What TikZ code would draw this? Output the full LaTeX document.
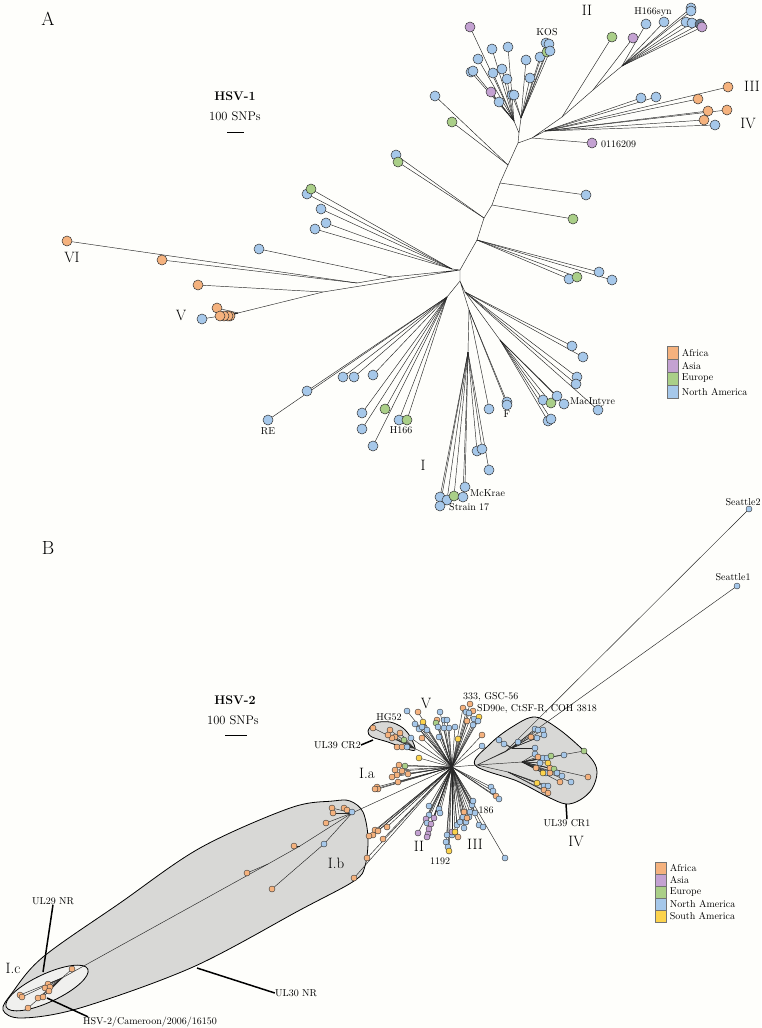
\documentclass[tikz,border=0pt]{standalone}
\usepackage{tikz}
\usetikzlibrary{positioning}

\definecolor{africa}{HTML}{F5B27E}
\definecolor{asia}{HTML}{C4A2D2}
\definecolor{europe}{HTML}{AACF88}
\definecolor{namerica}{HTML}{A6C8EA}
\definecolor{samerica}{HTML}{FCD34D}
\definecolor{cladegrey}{HTML}{D8D8D6}
\definecolor{cladelight}{HTML}{F0F0EE}
\definecolor{paper}{HTML}{FEFEFB}

\tikzset{
  tipA/.style={circle, draw=black!80, line width=0.5pt, minimum size=10pt, inner sep=0pt},
  tipB/.style={circle, draw=black!80, line width=0.4pt, minimum size=6pt, inner sep=0pt},
  branch/.style={draw=black!85, line width=0.45pt},
  callout/.style={draw=black, line width=1.5pt},
  cladeshape/.style={draw=black, line width=0.8pt, fill=cladegrey},
  tag/.style={font=\fontsize{10}{11}\selectfont, inner sep=0pt, text=black},
  roman/.style={font=\fontsize{15}{17}\selectfont, inner sep=0pt},
  panel/.style={font=\fontsize{19}{21}\selectfont, inner sep=0pt},
  keybox/.style={draw=black!55, line width=0.6pt, minimum width=11pt, minimum height=12.5pt, inner sep=0pt, anchor=north west},
}

% tips: x/y/colour/parent
\def\tipsA{
  470/27/asia/kos1, 492/49/namerica/kos1, 508/47/namerica/kos1, 478/59/namerica/kos1,
  471/72/namerica/kos1, 473/71/namerica/kos1, 493/73/namerica/kos1, 502/69/namerica/kos1,
  507/79/namerica/kos1, 491/92/asia/kos1, 499/102/namerica/kos1,
  512/95/namerica/kos2, 514/95/namerica/kos2, 526/60/namerica/kos2, 530/78/namerica/kos2,
  540/57/namerica/kos2, 547/52/europe/kos2, 546/43/namerica/kos2, 549/44/namerica/kos2, 550/51/namerica/kos2,
  435/96/namerica/spine5, 452/122/europe/spine5, 396/155/namerica/spine2, 398/162/europe/spine2,
  586/195/namerica/spine4, 573/219/europe/spine3,
  599/272/namerica/spine1, 569/279/namerica/spine1, 577/277/europe/spine1, 612/280/namerica/spine1,
  592/143/asia/right0,
  641/98/namerica/right1, 656/97/namerica/right1, 728/87/africa/right1, 698/99/africa/right1,
  708/111/africa/right1, 727/110/africa/right1, 704/120/africa/right1, 715/125/namerica/right1,
  612/37/europe/right2, 633/38/asia/right3,
  646/24/namerica/right4, 664/22/namerica/right4, 691/8/namerica/right4, 691/11/namerica/right4,
  686/22/namerica/right4, 692/23/namerica/right4, 700/24/namerica!60!black/right4, 702/27/asia/right4,
  307/194/namerica/hubAleft, 311/189/europe/hubAleft, 321/209/namerica/hubAleft,
  326/223/namerica/hubAleft, 315/229/namerica/hubAleft,
  259/249/namerica/six1, 67/241/africa/six2, 162/260/africa/six2,
  198/285/africa/five1, 217/308/africa/five2, 202/319/namerica/five2, 230/316/africa/five2,
  228/316/africa/five2, 224/316/africa/five2, 220/316/africa/five2,
  268/420/namerica/low1, 307/391/namerica/low1, 343/377/namerica/low1, 354/377/namerica/low1,
  373/375/namerica/low1, 362/413/namerica/low1, 385/409/europe/low1, 362/429/namerica/low1,
  373/446/namerica/low1, 399/420/namerica/low1, 407/420/europe/low1,
  572/346/namerica/low2, 583/357/namerica/low2, 577/377/namerica/low2, 576/384/namerica/low2, 598/410/namerica/low2,
  543/400/namerica/low3, 551/403/europe/low3, 557/396/namerica/low3, 564/404/namerica/low3,
  548/421/namerica/low3, 551/419/namerica/low3,
  507/402/namerica/low4, 507/405/namerica/low4, 489/409/namerica/low4,
  477/451/namerica/low5, 482/449/namerica/low5, 489/470/namerica/low5, 440/497/namerica/low5,
  447/500/namerica/low5, 454/496/europe/low5, 463/497/namerica/low5, 465/487/namerica/low5, 440/506/namerica/low5}

\def\tipsB{
  749/509/namerica/seattle, 737/586/namerica/seattle,
  499/740/namerica/iv1, 504/744/namerica/iv1, 518/742/namerica/iv1, 535/729/namerica/iv1,
  538/730/namerica/iv1, 543/730/namerica/iv1, 544/735/namerica/iv1, 537/738/namerica/iv1,
  531/737/africa/iv1, 535/748/namerica/iv1,
  535/754/namerica/iv2, 543/758/namerica/iv2, 547/758/namerica/iv2, 551/756/europe/iv2,
  564/755/namerica/iv2, 584/751/europe/iv2, 538/757/africa/iv2, 540/763/namerica/iv2,
  536/768/africa/iv2, 550/768/africa/iv2, 548/763/samerica/iv2, 554/769/europe/iv2,
  557/773/namerica/iv2, 546/773/namerica/iv2, 543/773/samerica/iv2, 550/773/africa/iv2,
  562/776/namerica/iv2, 560/782/africa/iv2, 571/782/namerica/iv2, 588/777/africa/iv2,
  537/783/samerica/iv3, 544/786/namerica/iv3, 548/786/namerica/iv3, 544/790/africa/iv3, 548/793/africa/iv3,
  491/787/namerica/hubB, 493/791/namerica/hubB, 496/796/africa/hubB, 499/799/namerica/hubB,
  407/711/namerica/hubB, 418/712/africa/hubB, 423/722/samerica/hubB, 415/724/namerica/hubB,
  419/729/namerica/hubB, 422/727/namerica/hubB, 422/738/africa/hubB, 411/738/namerica/hubB,
  427/730/namerica/hubB, 419/758/samerica/hubB, 440/712/namerica/hubB, 437/720/africa/hubB,
  436/723/europe/hubB, 444/720/namerica/hubB, 447/720/namerica/hubB, 438/727/namerica/hubB,
  444/728/namerica/hubB, 449/728/namerica/hubB, 455/727/namerica/hubB, 439/737/namerica/hubB,
  458/739/samerica/hubB, 470/704/africa/hubB, 463/708/africa/hubB, 466/712/namerica/hubB,
  473/711/africa/hubB, 469/713/namerica/hubB, 474/719/namerica/hubB, 467/721/africa/hubB,
  479/717/samerica/hubB, 478/721/namerica/hubB, 473/725/namerica/hubB, 482/735/africa/hubB, 482/746/namerica/hubB,
  373/728/africa/hg, 390/730/africa/hg, 395/737/africa/hg, 400/733/africa/hg, 392/738/africa/hg,
  388/735/africa/hg, 404/740/europe/hg, 397/747/africa/hg, 402/747/africa/hg, 407/747/namerica/hg,
  399/765/africa/hubB, 405/766/europe/hubB, 395/770/africa/hubB, 402/771/africa/hubB,
  408/774/africa/hubB, 397/775/africa/hubB, 392/777/africa/hubB, 398/782/africa/hubB,
  377/787/africa/hubB, 378/789/africa/hubB, 375/789/africa/hubB,
  332/808/africa/ib1, 333/813/africa/ib1, 344/808/africa/ib1, 347/810/africa/ib1,
  352/812/namerica/ib1, 326/823/africa/ib1, 294/846/africa/ib3, 247/873/africa/ib2,
  324/844/namerica/ib1, 272/889/africa/ibmid,
  72/969/africa/ic0, 48/984/africa/ic0, 45/988/africa/ic0, 50/987/africa/ic0, 49/991/africa/ic0,
  20/995/africa/ic0, 22/997/africa/ic0, 38/998/africa/ic0, 43/997/africa/ic0, 28/1008/africa/ic0,
  375/830/africa/hubB, 378/831/africa/hubB, 373/835/africa/hubB, 369/836/africa/hubB,
  387/827/africa/hubB, 383/839/africa/hubB, 367/858/africa/hubB, 354/878/africa/hubB,
  429/806/namerica/hubB, 439/809/namerica/hubB, 440/813/namerica/hubB, 429/815/namerica/hubB,
  426/819/asia/hubB, 434/818/asia/hubB, 427/823/namerica/hubB, 431/824/asia/hubB,
  429/829/asia/hubB, 418/833/asia/hubB, 428/834/asia/hubB, 427/837/asia/hubB,
  447/835/namerica/hubB, 452/835/namerica/hubB, 446/842/namerica/hubB, 448/847/namerica/hubB,
  449/851/samerica/hubB, 452/832/asia/hubB, 455/832/samerica/hubB, 458/837/africa/hubB,
  457/825/namerica/hubB, 460/822/namerica/hubB, 464/828/namerica/hubB, 466/822/namerica/hubB,
  463/817/namerica/hubB, 464/812/africa/hubB, 470/812/namerica/hubB, 469/817/namerica/hubB,
  472/805/namerica/hubB, 473/801/namerica/hubB, 475/813/namerica/hubB, 467/818/africa/hubB,
  479/825/namerica/hubB, 483/827/namerica/hubB, 505/858/namerica/hubB}

\begin{document}
\begin{tikzpicture}[x=1pt, y=-1pt]
\fill[paper] (0,0) rectangle (761,1028);
\useasboundingbox (0,0) rectangle (761,1028);

% ---------------- panel A : HSV-1 ----------------
\node[panel] (panelA) at (48,19) {A};
\node[font=\fontsize{12.5}{14}\selectfont\bfseries, inner sep=0pt] (titleA) at (235,96) {HSV-1};
\node[font=\fontsize{12.5}{14}\selectfont, inner sep=0pt] (snpA) at (235,116) {100 SNPs};
\coordinate (barAl) at (227,132);
\coordinate (barAr) at (244,132);
\draw[line width=0.8pt] (barAl) -- (barAr);

% internal nodes
\coordinate (hubA) at (460,270);
\coordinate (hubAlow) at (460,281);
\coordinate (hubAleft) at (452,269);
\coordinate (spine1) at (477,240);
\coordinate (spine2) at (484,218);
\coordinate (spine3) at (492,205);
\coordinate (spine4) at (500,183);
\coordinate (spine5) at (508,165);
\coordinate (spine6) at (518,143);
\coordinate (kos0) at (519,133);
\coordinate (kos1) at (514,121);
\coordinate (kos2) at (521,118);
\coordinate (right0) at (532,138);
\coordinate (right1) at (545,131);
\coordinate (right2) at (562,117);
\coordinate (right3) at (593,90);
\coordinate (right4) at (622,66);
\coordinate (six1) at (392,277);
\coordinate (six2) at (357,283);
\coordinate (five1) at (323,292);
\coordinate (five2) at (238,313);
\coordinate (low1) at (447,297);
\coordinate (low2) at (465,292);
\coordinate (low3) at (500,340);
\coordinate (low4) at (469,310);
\coordinate (low5) at (468,352);

\draw[branch] (hubAlow) -- (hubA) (hubAleft) -- (hubA)
  (hubA) -- (spine1) -- (spine2) -- (spine3) -- (spine4) -- (spine5) -- (spine6) -- (kos0)
  (kos0) -- (kos1) (kos0) -- (kos2)
  (spine6) -- (right0) -- (right1) (right0) -- (right2) -- (right3) -- (right4)
  (six2) -- (six1) -- (hubA) (five2) -- (five1) -- (hubA)
  (low1) -- (hubAlow) (low2) -- (hubAlow) (low3) -- (low2) (low4) -- (hubAlow) (low5) -- (low4);

% tips of panel A
\foreach \x/\y/\c/\p [count=\i] in \tipsA {
  \coordinate (ta\i) at (\x,\y);
  \draw[branch] (\p) -- (ta\i);
}
\foreach \x/\y/\c/\p [count=\i] in \tipsA {
  \node[tipA, fill=\c] (tipa\i) at (ta\i) {};
}

% labels of panel A
\node[tag] (kos) at (547,32) {KOS};
\node[roman] (cladeII) at (587,10) {II};
\node[tag] (hsyn) at (653,12) {H166syn};
\node[roman] (cladeIII) at (752,86) {III};
\node[roman] (cladeIV) at (748,123) {IV};
\node[tag, anchor=west] (s0116209) at (601,144) {0116209};
\node[roman] (cladeVI) at (72,257) {VI};
\node[roman] (cladeV) at (181,315) {V};
\node[tag] (re) at (268,431) {RE};
\node[tag] (h166) at (401,430) {H166};
\node[tag] (strF) at (507,414) {F};
\node[tag, anchor=west] (macintyre) at (570,402) {MacIntyre};
\node[roman] (cladeI) at (423,465) {I};
\node[tag, anchor=west] (mckrae) at (470,493) {McKrae};
\node[tag, anchor=west] (strain17) at (449,507) {Strain 17};

% key of panel A
\foreach \c/\lab [count=\i] in {africa/Africa, asia/Asia, europe/Europe, namerica/North America}{
  \node[keybox, fill=\c] (keyA\i) at (667,333+13*\i) {};
  \node[tag, anchor=west] (keyAt\i) at ([xshift=3pt]keyA\i.east) {\lab};
}

% ---------------- panel B : HSV-2 ----------------
\node[panel] (panelB) at (48,548) {B};
\node[font=\fontsize{12.5}{14}\selectfont\bfseries, inner sep=0pt] (titleB) at (235,700) {HSV-2};
\node[font=\fontsize{12.5}{14}\selectfont, inner sep=0pt] (snpB) at (233,720) {100 SNPs};
\coordinate (barBl) at (225,735);
\coordinate (barBr) at (247,735);
\draw[line width=0.8pt] (barBl) -- (barBr);

% shaded clades
\draw[cladeshape] plot[smooth cycle, tension=0.55] coordinates {
  (333,801) (350,801) (363,812) (368,838) (365,866) (354,881) (300,910) (193,967)
  (80,1008) (22,1018) (3,1010) (12,993) (43,957) (120,903) (200,848) (290,808)};
\draw[cladeshape, fill=cladelight, rotate around={25:(47,988)}] (47,988) ellipse [x radius=45pt, y radius=14pt];
\draw[cladeshape] plot[smooth cycle, tension=0.55] coordinates {
  (475,765) (490,744) (512,727) (535,717) (560,730) (590,757) (597,772) (592,789)
  (580,800) (566,804) (548,797) (517,781)};
\draw[cladeshape] plot[smooth cycle, tension=0.55] coordinates {
  (368,731) (375,723) (390,722) (403,728) (411,738) (415,750) (404,748) (388,742) (372,737)};

% internal nodes
\coordinate (hubB) at (452,767);
\coordinate (baseIV) at (477,765);
\coordinate (seattle) at (505,752);
\coordinate (iv1) at (512,748);
\coordinate (iv2) at (522,762);
\coordinate (iv3) at (508,772);
\coordinate (hg) at (414,748);
\coordinate (ib1) at (352,813);
\coordinate (ib2) at (268,864);
\coordinate (ib3) at (300,846);
\coordinate (ibmid) at (324,844);
\coordinate (ic0) at (62,978);

\draw[branch] (baseIV) -- (hubB) (seattle) -- (baseIV) (iv1) -- (baseIV) (iv2) -- (baseIV) (iv3) -- (baseIV)
  (hg) -- (hubB) (ib1) -- (hubB) (ib3) -- (ib1) (ib2) -- (ib3) (ic0) -- (ib2);

% tips of panel B
\foreach \x/\y/\c/\p [count=\i] in \tipsB {
  \coordinate (tb\i) at (\x,\y);
  \draw[branch] (\p) -- (tb\i);
}
\foreach \x/\y/\c/\p [count=\i] in \tipsB {
  \node[tipB, fill=\c] (tipb\i) at (tb\i) {};
}

% labels of panel B
\node[tag] (seattle2) at (743,502) {Seattle2};
\node[tag] (seattle1) at (733,577) {Seattle1};
\node[tag] (hg52) at (389,717) {HG52};
\node[tag, anchor=east] (cr2) at (361,745) {UL39 CR2};
\coordinate (cr2tip) at (373,740);
\draw[callout] (cr2.east) -- (cr2tip);
\node[roman] (cladeBV) at (426,703) {V};
\node[tag, anchor=west] (gsc) at (463,697) {333, GSC-56};
\node[tag, anchor=west] (sd90e) at (477,709) {SD90e, CtSF-R, COH 3818};
\node[roman] (cladeIa) at (367,773) {I.a};
\node[roman] (cladeIb) at (336,863) {I.b};
\node[roman] (cladeIc) at (13,968) {I.c};
\node[roman] (cladeBII) at (419,846) {II};
\node[roman] (cladeBIII) at (475,844) {III};
\node[tag] (s186) at (486,810) {186};
\node[tag] (s1192) at (440,861) {1192};
\node[tag] (cr1) at (567,823) {UL39 CR1};
\coordinate (cr1tip) at (566,804);
\draw[callout] (cr1.north) -- (cr1tip);
\node[roman] (cladeBIV) at (576,841) {IV};
\node[tag] (ul29) at (53,901) {UL29 NR};
\coordinate (ul29tip) at (43,972);
\draw[callout] (ul29.south) -- (ul29tip);
\node[tag] (ul30) at (296,993) {UL30 NR};
\coordinate (ul30tip) at (197,968);
\draw[callout] (ul30.west) -- (ul30tip);
\node[tag] (cameroon) at (150,1022) {HSV-2/Cameroon/2006/16150};
\coordinate (camtip) at (47,998);
\draw[callout] ([xshift=5pt]cameroon.north west) -- (camtip);

% key of panel B
\foreach \c/\lab [count=\i] in {africa/Africa, asia/Asia, europe/Europe, namerica/North America, samerica/South America}{
  \node[keybox, minimum height=12pt, fill=\c] (keyB\i) at (655,850+12*\i) {};
  \node[tag, anchor=west] (keyBt\i) at ([xshift=3pt]keyB\i.east) {\lab};
}
\end{tikzpicture}
\end{document}
